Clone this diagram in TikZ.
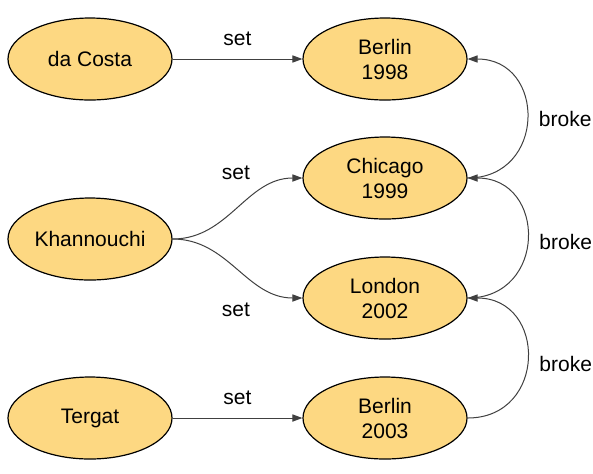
\documentclass[tikz,border=0pt]{standalone}
\usepackage{fontspec}
\setmainfont{Liberation Sans}
\usetikzlibrary{arrows.meta, shapes.geometric}

\definecolor{recfill}{RGB}{253,216,130}
\definecolor{linegray}{RGB}{64,64,64}

\begin{document}
\begin{tikzpicture}[x=0.5pt, y=-0.5pt, every node/.style={font=\fontsize{10.5}{12.5}\selectfont},
		recnode/.style={ellipse, draw=black, line width=0.6pt, fill=recfill, minimum width=82pt, minimum height=41pt, inner sep=0pt, align=center},
		link/.style={draw=linegray, line width=0.5pt, -{Triangle[length=5pt, width=3.6pt]}}]
			\useasboundingbox (0,0) rectangle (593,473);
			% Laeufer
			\node[recnode] (costa) at (90,59) {da Costa};
			\node[recnode] (khan) at (90,239) {Khannouchi};
			\node[recnode] (tergat) at (90,418) {Tergat};
			
			% Rekorde
			\node[recnode] (ber98) at (385,59) {Berlin\\1998};
			\node[recnode] (chi99) at (385,178) {Chicago\\1999};
			\node[recnode] (lon02) at (385,298) {London\\2002};
			\node[recnode] (ber03) at (385,418) {Berlin\\2003};
			
			% set
			\draw[link] (costa.east) -- node[above=3pt] {set} (ber98.west);
			\draw[link] (khan.east) to[out=0, in=180] (chi99.west);
			\draw[link] (khan.east) to[out=0, in=180] (lon02.west);
			\draw[link] (tergat.east) -- node[above=3pt] {set} (ber03.west);
			\node (setchi) at (236,173) {set};
			\node (setlon) at (236,310) {set};
			
			% broke
			\draw[link] (chi99.east) to[out=0, in=0, looseness=1.7] node[right=2.5pt] {broke} (ber98.east);
			\draw[link] (lon02.east) to[out=0, in=0, looseness=1.7] node[right=2.5pt, yshift=-2pt] {broke} (chi99.east);
			\draw[link] (ber03.east) to[out=0, in=0, looseness=1.7] node[right=2.5pt, yshift=-3pt] {broke} (lon02.east);
		\end{tikzpicture}
\end{document}
